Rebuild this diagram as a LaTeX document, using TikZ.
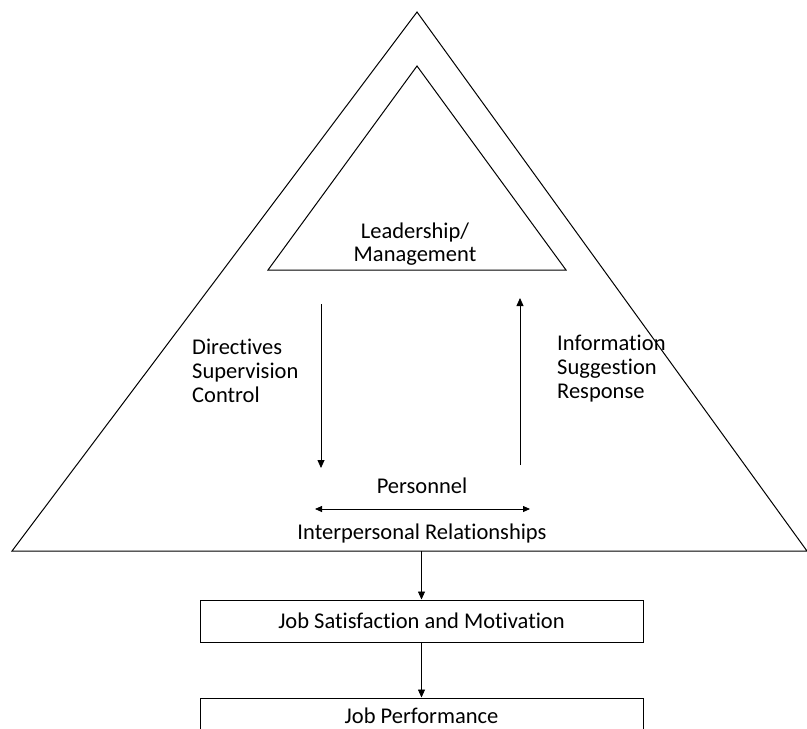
\documentclass[tikz,border=0pt]{standalone}
\usepackage{fontspec}
\setmainfont[Ligatures=NoCommon]{Carlito}
\usetikzlibrary{arrows.meta}
\begin{document}
\begin{tikzpicture}[x=1pt,y=-1pt,
  line/.style={line width=1pt,black},
  arr/.style={line width=0.8pt,-{Triangle[width=7pt,length=8pt]}},
  darr/.style={line width=0.8pt,{Triangle[width=6pt,length=7pt]}-{Triangle[width=6pt,length=7pt]}},
  lbl/.style={font=\fontsize{22.5}{24}\selectfont,inner sep=0pt},
  boxst/.style={draw,line width=1pt,minimum width=443pt,minimum height=42pt,inner sep=0pt}]
\useasboundingbox (0,0) rectangle (807,729);
% outer triangle
\coordinate (oA) at (417,12);
\coordinate (oL) at (12,551);
\coordinate (oR) at (807,551);
\draw[line] (oA) -- (oL) -- (oR) -- cycle;
% inner triangle
\coordinate (iA) at (417,66);
\coordinate (iL) at (268,270);
\coordinate (iR) at (566,270);
\draw[line] (iA) -- (iL) -- (iR) -- cycle;
\node[lbl] (lead) at (415,232) {Leadership/};
\node[lbl] (mgmt) at (415,256) {Management};
% vertical arrows
\coordinate (d1) at (321,304);
\coordinate (d2) at (321,468);
\draw[arr] (d1) -- (d2);
\coordinate (u1) at (520,465);
\coordinate (u2) at (520,298);
\draw[arr] (u1) -- (u2);
% side labels
\node[lbl,anchor=west,align=left] (dir) at (192,371) {Directives\\Supervision\\Control};
\node[lbl,anchor=west,align=left] (inf) at (557,369) {Information\\Suggestion\\Response};
% personnel
\node[lbl] (pers) at (422,486) {Personnel};
\coordinate (h1) at (315,509);
\coordinate (h2) at (530,509);
\draw[darr] (h1) -- (h2);
\node[lbl] (inter) at (422,533) {Interpersonal Relationships};
% boxes
\node[boxst] (js) at (421.5,621) {};
\node[lbl] (jst) at (js.center) {Job Satisfaction and Motivation};
\node[boxst] (jp) at (421.5,719) {};
\node[lbl] (jpt) at (421.5,716) {Job Performance};
\coordinate (base) at (421.5,551);
\draw[arr] (base) -- (js.north);
\draw[arr] (js.south) -- (jp.north);
\end{tikzpicture}
\end{document}
